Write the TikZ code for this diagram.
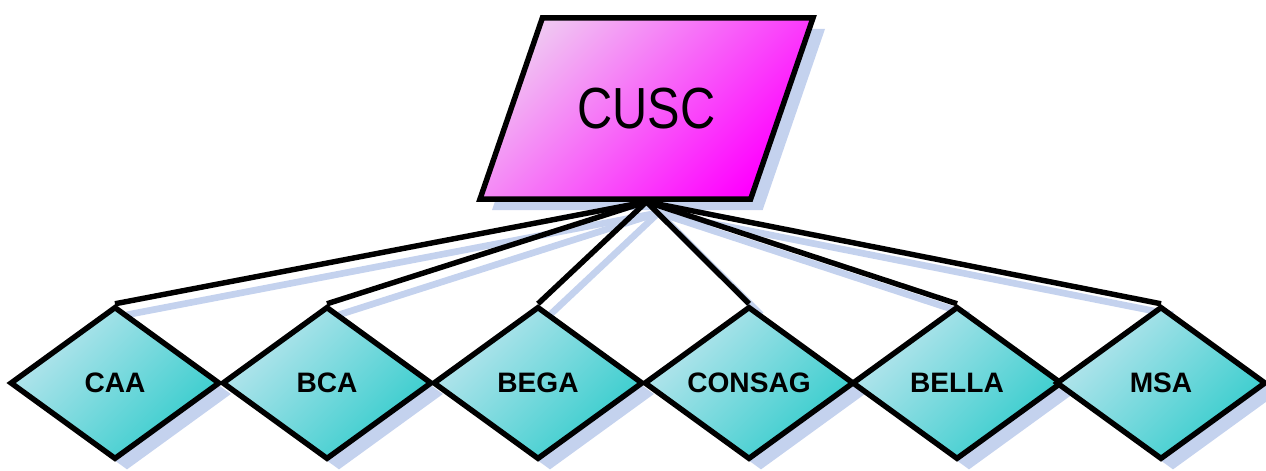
\documentclass[tikz,border=0pt]{standalone}
\usepackage{fontspec}
\setmainfont{Liberation Sans}
\newfontfamily\headfont[FakeStretch=0.84]{Liberation Sans}
\usetikzlibrary{shapes.geometric,shadows,backgrounds}
\definecolor{teal1}{HTML}{33CCCC}
\definecolor{tealhi}{HTML}{BCE6EE}
\definecolor{mag1}{HTML}{FF00FF}
\definecolor{maghi}{HTML}{F0C4F2}
\definecolor{shadowblue}{HTML}{C4D2EE}

\tikzset{
  outline/.style={draw=black,line width=3.1pt},
  offshadow/.style={shadow xshift=0.24cm,shadow yshift=-0.22cm,fill=shadowblue,opacity=1},
  council/.style={trapezium,trapezium left angle=71,trapezium right angle=109,
    trapezium stretches body,inner xsep=0.2cm,inner ysep=1.4cm,minimum width=6.66cm,outline,
    shading=axis,top color=maghi,middle color=mag1!96!maghi,bottom color=mag1,shading angle=45,
    drop shadow={offshadow},font=\headfont\fontsize{33}{38}\selectfont},
  member/.style={diamond,shape aspect=1.4,minimum width=4.2cm,minimum height=3.06cm,
    inner sep=0pt,outline,
    shading=axis,top color=tealhi,middle color=teal1!88!tealhi,bottom color=teal1,shading angle=45,
    drop shadow={offshadow},font=\fontsize{16}{19}\selectfont\bfseries},
  link/.style={line width=3.1pt},
  linkshadow/.style={draw=shadowblue,line width=3.8pt}
}

\begin{document}
\begin{tikzpicture}[x=1cm,y=1cm]
  \useasboundingbox (0,0) rectangle (25.32,9.4);
  % top body
  \node[council] (cusc) at (12.93,7.23) {CUSC};
  % member bodies, corner to corner
  \node[member] (caa)    at (2.30,1.74)  {CAA};
  \node[member] (bca)    at (6.54,1.74)  {BCA};
  \node[member] (bega)   at (10.76,1.74) {BEGA};
  \node[member] (consag) at (14.98,1.74) {CONSAG};
  \node[member] (bella)  at (19.14,1.74) {BELLA};
  \node[member] (msa)    at (23.22,1.74) {MSA};
  % links with their shadows
  \begin{scope}[on background layer]
    \foreach \m in {caa,bca,bega,consag,bella,msa}
      \draw[linkshadow] ([shift={(0.24,-0.22)}]cusc.south) -- ([shift={(0.24,-0.22)}]\m.north);
  \end{scope}
  \foreach \m in {caa,bca,bega,consag,bella,msa}
    \draw[link] (cusc.south) -- (\m.north);
\end{tikzpicture}
\end{document}
